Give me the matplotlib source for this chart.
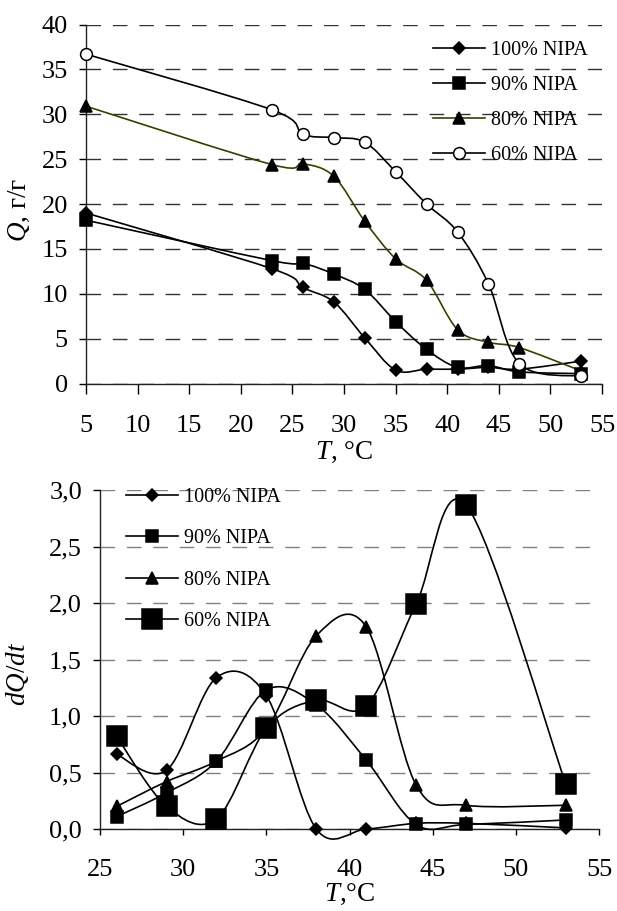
import numpy as np
import matplotlib
matplotlib.use("Agg")
import matplotlib.pyplot as plt
from matplotlib.path import Path
from matplotlib.patches import PathPatch
from matplotlib.lines import Line2D
from matplotlib.ticker import FuncFormatter

plt.rcParams["font.family"] = ["Liberation Serif", "DejaVu Serif"]
plt.rcParams["mathtext.fontset"] = "custom"
plt.rcParams["mathtext.rm"] = "Liberation Serif"
plt.rcParams["mathtext.it"] = "Liberation Serif:italic"

# top panel: swelling Q vs temperature
t_top = [5, 23, 26, 29, 32, 35, 38, 41, 44, 47, 53]
q100 = [19.0, 12.8, 10.7, 9.1, 5.1, 1.5, 1.6, 1.6, 1.8, 1.6, 2.5]
q90 = [18.2, 13.7, 13.4, 12.2, 10.5, 6.9, 3.8, 1.8, 2.0, 1.3, 1.1]
q80 = [30.9, 24.4, 24.5, 23.1, 18.1, 13.9, 11.5, 6.0, 4.6, 4.0, 1.4]
q60 = [36.7, 30.5, 27.8, 27.4, 26.9, 23.6, 20.0, 16.9, 11.1, 2.2, 0.8]

# bottom panel: dQ/dt vs temperature
t_bot = [26, 29, 32, 35, 38, 41, 44, 47, 53]
d100 = [0.66, 0.52, 1.34, 1.18, 0.0, 0.0, 0.05, 0.05, 0.01]
d90 = [0.11, 0.32, 0.60, 1.23, 1.10, 0.61, 0.04, 0.04, 0.08]
d80 = [0.20, 0.42, 0.60, 0.89, 1.71, 1.79, 0.39, 0.21, 0.21]
d60 = [0.82, 0.20, 0.09, 0.89, 1.14, 1.09, 1.99, 2.87, 0.40]

labels = ["100% NIPA", "90% NIPA", "80% NIPA", "60% NIPA"]


def smooth_path(x, y):
    # Excel-like smoothed line: cubic Bezier through the points
    p = np.column_stack([x, y]).astype(float)
    n = len(p)
    verts = [p[0]]
    codes = [Path.MOVETO]
    for i in range(n - 1):
        p0 = p[i - 1] if i > 0 else p[i]
        p3 = p[i + 2] if i + 2 < n else p[i + 1]
        c1 = p[i] + (p[i + 1] - p0) / 6
        c2 = p[i + 1] - (p3 - p[i]) / 6
        verts += [c1, c2, p[i + 1]]
        codes += [Path.CURVE4] * 3
    return Path(verts, codes)


def draw_series(ax, x, y, color, marker, ms, mfc):
    ax.add_patch(PathPatch(smooth_path(x, y), fill=False, edgecolor=color,
                           lw=1.2, zorder=3, clip_on=False))
    ax.plot(x, y, ls="none", marker=marker, ms=ms, mfc=mfc, mec="black",
            mew=1.1, zorder=4, clip_on=False)
    return Line2D([], [], color=color, lw=1.2, marker=marker, ms=ms,
                  mfc=mfc, mec="black", mew=1.1)


def style_axes(ax, grid_color, xtick_len, xpad):
    for s in ["top", "right"]:
        ax.spines[s].set_visible(False)
    for s in ["left", "bottom"]:
        ax.spines[s].set_color("#222222")
        ax.spines[s].set_linewidth(1.0)
    ax.tick_params(axis="y", direction="out", length=5, width=1,
                   labelsize=19, pad=8)
    ax.tick_params(axis="x", direction="out", length=xtick_len, width=1,
                   labelsize=19, pad=xpad)
    ax.yaxis.grid(True, color=grid_color, lw=1.0, dashes=(10.5, 8.5))
    ax.xaxis.grid(False)
    ax.set_axisbelow(True)


fig = plt.figure(figsize=(6.17, 9.11), dpi=100)
ax1 = fig.add_axes([0.1394, 0.5790, 0.8363, 0.3941])
ax2 = fig.add_axes([0.1621, 0.0900, 0.8088, 0.3721])

olive = "#3d3d00"
h1 = [
    draw_series(ax1, t_top, q100, "black", "D", 6.5, "black"),
    draw_series(ax1, t_top, q90, "black", "s", 8, "black"),
    draw_series(ax1, t_top, q80, olive, "^", 9, "black"),
    draw_series(ax1, t_top, q60, "black", "o", 8.5, "white"),
]
ax1.set_xlim(5, 55)
ax1.set_ylim(0, 40)
ax1.set_xticks(range(5, 56, 5))
ax1.set_yticks(range(0, 41, 5))
style_axes(ax1, "#333333", 7, 16)
ax1.set_xlabel(r"$T$, °C", fontsize=19.5, labelpad=1.5)
ax1.set_ylabel(r"$Q$, г/г", fontsize=19.5)
ax1.yaxis.set_label_coords(-0.105, 0.483)
fig.legend(h1, labels, loc="upper left", bbox_to_anchor=(0.7018, 0.9553),
           bbox_transform=fig.transFigure, frameon=False, fontsize=14.5,
           handlelength=2.6, handletextpad=0.3, labelspacing=0.8,
           borderpad=0, borderaxespad=0)

h2 = [
    draw_series(ax2, t_bot, d100, "black", "D", 6.5, "black"),
    draw_series(ax2, t_bot, d90, "black", "s", 8, "black"),
    draw_series(ax2, t_bot, d80, "black", "^", 9, "black"),
    draw_series(ax2, t_bot, d60, "black", "s", 14, "black"),
]
ax2.set_xlim(25, 55)
ax2.set_ylim(0, 3)
ax2.set_xticks(range(25, 56, 5))
ax2.set_yticks(np.arange(0, 3.01, 0.5))
ax2.yaxis.set_major_formatter(FuncFormatter(lambda v, p: f"{v:.1f}".replace(".", ",")))
style_axes(ax2, "#808080", 4.5, 17)
ax2.set_xlabel(r"$T$,°C", fontsize=19.5, labelpad=1)
ax2.set_ylabel(r"$dQ/dt$", fontsize=19.5)
ax2.yaxis.set_label_coords(-0.138, 0.457)
fig.legend(h2, labels, loc="upper left", bbox_to_anchor=(0.2037, 0.4643),
           bbox_transform=fig.transFigure, frameon=False, fontsize=14.5,
           handlelength=2.6, handletextpad=0.3, labelspacing=1.1,
           borderpad=0, borderaxespad=0)

fig.savefig("out.png", dpi=100)
